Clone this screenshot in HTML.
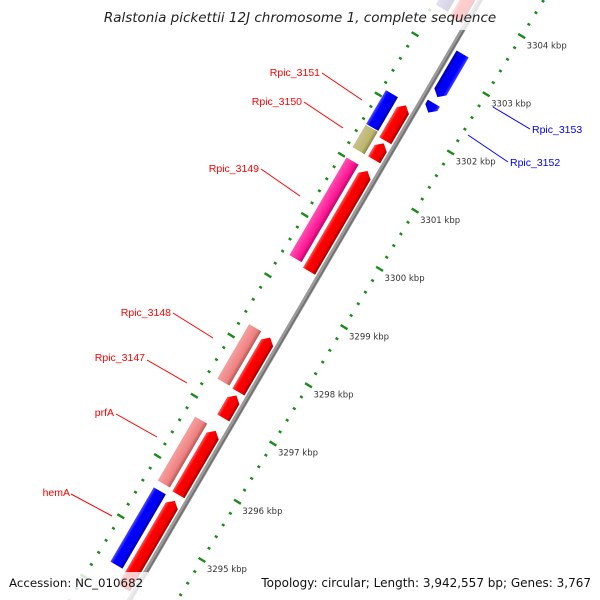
<!DOCTYPE html>
<html><head><meta charset="utf-8"><style>
html,body{margin:0;padding:0;background:#fff;width:600px;height:600px;overflow:hidden;}
svg{display:block;font-family:"DejaVu Sans","Liberation Sans",sans-serif;}
</style></head><body>
<svg id="map" width="600" height="600" viewBox="0 0 600 600" xmlns="http://www.w3.org/2000/svg">
<defs>
<linearGradient id="gRed" x1="0" y1="0" x2="0" y2="1"><stop offset="0" stop-color="#ff5050"/><stop offset="0.25" stop-color="#ff0000"/><stop offset="0.75" stop-color="#f00000"/><stop offset="1" stop-color="#a00000"/></linearGradient>
<linearGradient id="gBlue" x1="0" y1="0" x2="0" y2="1"><stop offset="0" stop-color="#5050ff"/><stop offset="0.25" stop-color="#0000ff"/><stop offset="0.75" stop-color="#0000f0"/><stop offset="1" stop-color="#0000a0"/></linearGradient>
<linearGradient id="gBlueR" x1="0" y1="0" x2="0" y2="1"><stop offset="0" stop-color="#0000a0"/><stop offset="0.25" stop-color="#0000f0"/><stop offset="0.75" stop-color="#0000ff"/><stop offset="1" stop-color="#4040ff"/></linearGradient>
<linearGradient id="gSalmon" x1="0" y1="0" x2="0" y2="1"><stop offset="0" stop-color="#f4a0a0"/><stop offset="0.7" stop-color="#f08080"/><stop offset="1" stop-color="#b05858"/></linearGradient>
<linearGradient id="gPink" x1="0" y1="0" x2="0" y2="1"><stop offset="0" stop-color="#ff50b0"/><stop offset="0.7" stop-color="#ff1493"/><stop offset="1" stop-color="#b00c68"/></linearGradient>
<linearGradient id="gKhaki" x1="0" y1="0" x2="0" y2="1"><stop offset="0" stop-color="#c8c090"/><stop offset="0.7" stop-color="#bdb76b"/><stop offset="1" stop-color="#8a8550"/></linearGradient>
<linearGradient id="gPurple" x1="0" y1="0" x2="0" y2="1"><stop offset="0" stop-color="#6a60c0"/><stop offset="0.7" stop-color="#483d8b"/><stop offset="1" stop-color="#302860"/></linearGradient>
</defs>
<g id="rulerframe" transform="translate(143,572) rotate(-58.6)">
  <g id="rulers"></g>
</g>
<g id="frame" transform="translate(146,572) rotate(-59.7)">
  <line x1="-120" y1="0" x2="740" y2="0" stroke="#9a9a9a" stroke-width="5"/>
  <line x1="-120" y1="1" x2="740" y2="1" stroke="#6e6e6e" stroke-width="1.5"/>
  <g id="features"></g>
</g>
<g id="ticklabels"></g>
<g font-size="10.5" font-family="'Liberation Sans', sans-serif">
  <line x1="322" y1="73" x2="362" y2="100" stroke="#ff0000" stroke-width="1"/>
  <text x="320" y="76" text-anchor="end" fill="#ff0000">Rpic_3151</text>
  <line x1="304" y1="102" x2="343" y2="128" stroke="#ff0000" stroke-width="1"/>
  <text x="302" y="105" text-anchor="end" fill="#ff0000">Rpic_3150</text>
  <line x1="261" y1="169" x2="300" y2="196" stroke="#ff0000" stroke-width="1"/>
  <text x="259" y="172" text-anchor="end" fill="#ff0000">Rpic_3149</text>
  <line x1="173" y1="313" x2="213" y2="338" stroke="#ff0000" stroke-width="1"/>
  <text x="171" y="316" text-anchor="end" fill="#ff0000">Rpic_3148</text>
  <line x1="147" y1="360" x2="187" y2="383" stroke="#ff0000" stroke-width="1"/>
  <text x="145" y="361" text-anchor="end" fill="#ff0000">Rpic_3147</text>
  <line x1="116" y1="414" x2="157" y2="437" stroke="#ff0000" stroke-width="1"/>
  <text x="114" y="416" text-anchor="end" fill="#ff0000">prfA</text>
  <line x1="71" y1="494" x2="112" y2="516" stroke="#ff0000" stroke-width="1"/>
  <text x="70" y="496" text-anchor="end" fill="#ff0000">hemA</text>
  <line x1="493" y1="107" x2="530" y2="129" stroke="#0000ff" stroke-width="1"/>
  <text x="532" y="133" fill="#0000ff">Rpic_3153</text>
  <line x1="468" y1="135" x2="508" y2="162" stroke="#0000ff" stroke-width="1"/>
  <text x="510" y="166" fill="#0000ff">Rpic_3152</text>
</g>
<rect x="95" y="0" width="410" height="30" fill="#fff" fill-opacity="0.8"/>
<text x="300" y="22" text-anchor="middle" font-size="13.5" font-style="italic" fill="#222">Ralstonia pickettii 12J chromosome 1, complete sequence</text>
<rect x="0" y="572" width="148" height="28" fill="#fff" fill-opacity="0.8"/>
<rect x="256" y="572" width="344" height="28" fill="#fff" fill-opacity="0.8"/>
<text x="9" y="587" font-size="11.8" fill="#111">Accession: NC_010682</text>
<text x="591" y="587" text-anchor="end" font-size="12" fill="#111">Topology: circular; Length: 3,942,557 bp; Genes: 3,767</text>
</svg>
<script>
// feature data (kbp)
const featNames = ["hemA-cog","hemA","prfA","prfA-cog","Rpic_3147","Rpic_3148","Rpic_3148-cog","Rpic_3149-cog","Rpic_3149","Rpic_3150-cog","Rpic_3150","Rpic_3151-cog","Rpic_3151","next-cog","next","Rpic_3153","Rpic_3152"];
const featStart = [3294.267,3294.032,3295.616,3295.645,3296.921,3297.361,3297.375,3299.472,3299.413,3301.305,3301.305,3301.701,3301.628,3303.724,3303.680,3302.566,3302.302];
const featEnd   = [3295.528,3295.513,3296.701,3296.730,3297.302,3298.284,3298.299,3301.129,3301.114,3301.686,3301.584,3302.273,3302.229,3305.600,3305.600,3303.299,3302.463];
const featRow   = ["cog","fwd","fwd","cog","fwd","fwd","cog","cog","fwd","cog","fwd","cog","fwd","cog","fwd","rev","rev"];
const featFill  = ["gBlue","gRed","gRed","gSalmon","gRed","gRed","gSalmon","gPink","gRed","gKhaki","gRed","gBlue","gRed","gPurple","gRed","gBlueR","gBlueR"];
const tickKbp = [3294,3295,3296,3297,3298,3299,3300,3301,3302,3303,3304,3305];
const tickLabels = ["3294 kbp","3295 kbp","3296 kbp","3297 kbp","3298 kbp","3299 kbp","3300 kbp","3301 kbp","3302 kbp","3303 kbp","3304 kbp","3305 kbp"];

const NS="http://www.w3.org/2000/svg";
const O=[143,572], U=[0.521,-0.853], N=[0.853,0.521];
function sOf(k){return 41+(k-3295)*68.2;}
function sOfOuter(k){return 36+(k-3295)*70.6;}
const rows={cog:[-36,-22],fwd:[-18,-4],rev:[5,19]};
const fg=document.getElementById('features');
for(let i=0;i<featNames.length;i++){
  const r=rows[featRow[i]];
  const s1=sOf(featStart[i]);
  const s2=sOf(featEnd[i]);
  const t0=r[0],t1=r[1],tm=(t0+t1)/2,h=Math.min(6,(s2-s1));
  let d;
  if(featRow[i]==='cog') d=`M${s1},${t0}L${s2},${t0}L${s2},${t1}L${s1},${t1}Z`;
  else if(featRow[i]==='fwd') d=`M${s1},${t0}L${s2-h},${t0}L${s2},${tm}L${s2-h},${t1}L${s1},${t1}Z`;
  else d=`M${s2},${t0}L${s1+h},${t0}L${s1},${tm}L${s1+h},${t1}L${s2},${t1}Z`;
  const p=document.createElementNS(NS,'path');
  p.setAttribute('d',d);
  p.setAttribute('fill','url(#'+featFill[i]+')');
  
  
  fg.appendChild(p);
}
// rulers
const rg=document.getElementById('rulers');
const tl=document.getElementById('ticklabels');
for(let k=3293;k<=3306;k+=0.2){
  const kk=Math.round(k*5)/5;
  const major=Math.abs(kk-Math.round(kk))<1e-6;
  const s=sOf(kk);
  const l=document.createElementNS(NS,'line');
  l.setAttribute('x1',s);l.setAttribute('x2',s);
  l.setAttribute('y1',major?40:42.5);l.setAttribute('y2',major?48:45.5);
  l.setAttribute('stroke','#1a8a1a');l.setAttribute('stroke-width','2.4');
  
  
  rg.appendChild(l);
  const so=sOfOuter(kk);
  const l2=document.createElementNS(NS,'line');
  l2.setAttribute('x1',so);l2.setAttribute('x2',so);
  l2.setAttribute('y1',major?-52:-49.5);l2.setAttribute('y2',major?-44:-46.5);
  l2.setAttribute('stroke','#1a8a1a');l2.setAttribute('stroke-width','2.4');
  
  
  rg.appendChild(l2);
}
for(let i=0;i<tickKbp.length;i++){
  const s=sOf(tickKbp[i]);
  const x=O[0]+s*U[0]+44*N[0], y=O[1]+s*U[1]+44*N[1];
  const t=document.createElementNS(NS,'text');
  t.setAttribute('x',x+5);t.setAttribute('y',y+12);
  t.setAttribute('font-size','8.5');t.setAttribute('fill','#333');
  t.textContent=tickLabels[i];
  
  
  tl.appendChild(t);
}
</script>
</body></html>
